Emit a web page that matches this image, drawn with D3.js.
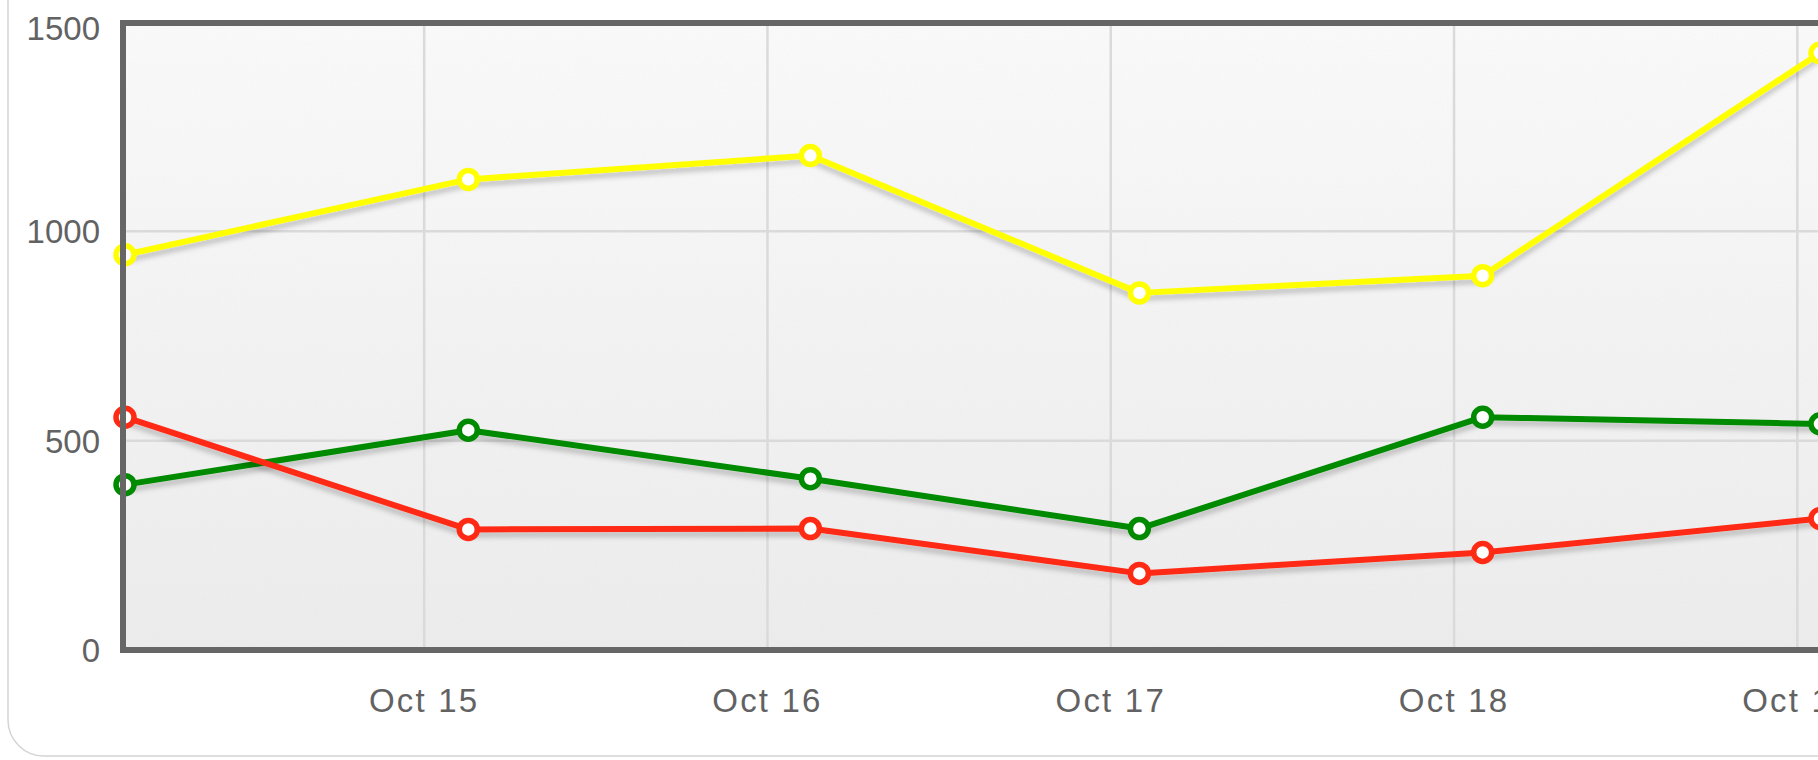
<!DOCTYPE html>
<html>
<head>
<meta charset="utf-8">
<script src="https://cdn.jsdelivr.net/npm/d3@7"></script>
<style>
  html, body { margin: 0; padding: 0; background: #fff; overflow: hidden; }
  svg { display: block; font-family: "Liberation Sans", Arial, sans-serif; }
  .tick-label { fill: #626262; font-size: 33px; }
  .x-label { letter-spacing: 2.2px; }
</style>
</head>
<body>
<div id="chart"></div>
<script>
// sample times (UTC) and the three series
const times = [
    "2011-10-14T03:05", "2011-10-15T03:05", "2011-10-16T03:00",
    "2011-10-17T02:00", "2011-10-18T02:00", "2011-10-19T01:35"
];
const yellowValues = [944, 1124, 1181, 853, 894, 1426];
const greenValues = [395, 525, 409, 290, 556, 540];
const redValues = [556, 288, 290, 183, 233, 314];
const yTicks = [0, 500, 1000, 1500];
const seriesNames = ["yellow", "green", "red"];
const seriesColors = ["#ffff00", "#008a00", "#ff2a14"];

(function () {
    const width = 1818;
    const height = 760;

    const parseTime = d3.utcParse("%Y-%m-%dT%H:%M");
    const dates = times.map(parseTime);
    const allValues = [yellowValues, greenValues, redValues];

    const series = seriesNames.map((name, i) => ({
        name: name,
        color: seriesColors[i],
        points: dates.map((d, j) => ({ date: d, value: allValues[i][j] }))
    }));

    const svg = d3.select("#chart")
        .append("svg")
        .attr("width", width)
        .attr("height", height);

    const defs = svg.append("defs");

    // plot background: light gradient
    const grad = defs.append("linearGradient")
        .attr("id", "bg-grad")
        .attr("x1", 0).attr("y1", 0).attr("x2", 0).attr("y2", 1);
    grad.append("stop").attr("offset", "0%").attr("stop-color", "#fbfbfb");
    grad.append("stop").attr("offset", "100%").attr("stop-color", "#ededed");

    // slight grain on the background
    const noise = defs.append("filter").attr("id", "grain")
        .attr("x", 0).attr("y", 0).attr("width", "100%").attr("height", "100%");
    noise.append("feTurbulence")
        .attr("type", "fractalNoise")
        .attr("baseFrequency", 0.9)
        .attr("numOctaves", 1)
        .attr("seed", 3);
    noise.append("feColorMatrix")
        .attr("values", "0 0 0 0 0.5  0 0 0 0 0.5  0 0 0 0 0.5  0 0 0 0.08 0");
    noise.append("feComposite").attr("in2", "SourceGraphic").attr("operator", "in");

    // line shadow
    const shadow = defs.append("filter").attr("id", "shadow")
        .attr("x", "-5%").attr("y", "-20%").attr("width", "110%").attr("height", "140%");
    shadow.append("feDropShadow")
        .attr("dx", 0).attr("dy", 5)
        .attr("stdDeviation", 2.5)
        .attr("flood-color", "#000")
        .attr("flood-opacity", 0.2);

    // outer rounded box
    svg.append("rect")
        .attr("x", 8)
        .attr("y", -60)
        .attr("width", 1900)
        .attr("height", 816)
        .attr("rx", 36)
        .attr("fill", "#fff")
        .attr("stroke", "#d4d4d4")
        .attr("stroke-width", 1.5);

    const plot = { left: 123, top: 23, right: 1822, bottom: 650 };

    const x = d3.scaleUtc()
        .domain(d3.extent(dates))
        .range([125, 1820]);

    const y = d3.scaleLinear()
        .domain([0, 1500])
        .range([650, 22]);

    // background
    svg.append("rect")
        .attr("x", plot.left)
        .attr("y", plot.top)
        .attr("width", plot.right - plot.left)
        .attr("height", plot.bottom - plot.top)
        .attr("fill", "url(#bg-grad)");
    svg.append("rect")
        .attr("x", plot.left)
        .attr("y", plot.top)
        .attr("width", plot.right - plot.left)
        .attr("height", plot.bottom - plot.top)
        .attr("fill", "#fff")
        .attr("filter", "url(#grain)");

    // grid
    const dayTicks = x.ticks(d3.utcDay.every(1));
    const grid = svg.append("g").attr("class", "grid");
    grid.selectAll(".vgrid")
        .data(dayTicks)
        .enter().append("line")
        .attr("x1", d => x(d)).attr("x2", d => x(d))
        .attr("y1", plot.top).attr("y2", plot.bottom)
        .attr("stroke", "#dadada")
        .attr("stroke-width", 2.5);
    grid.selectAll(".hgrid")
        .data(yTicks.slice(1, -1))
        .enter().append("line")
        .attr("x1", plot.left).attr("x2", plot.right)
        .attr("y1", d => y(d)).attr("y2", d => y(d))
        .attr("stroke", "#dadada")
        .attr("stroke-width", 2.5);

    // axis labels
    svg.append("g").selectAll("text")
        .data(yTicks)
        .enter().append("text")
        .attr("class", "tick-label")
        .attr("x", 100)
        .attr("y", d => Math.max(y(d), 28))
        .attr("dy", "0.36em")
        .attr("text-anchor", "end")
        .text(d => d);

    const fmt = d3.utcFormat("%b %-d");
    svg.append("g").selectAll("text")
        .data(dayTicks)
        .enter().append("text")
        .attr("class", "tick-label x-label")
        .attr("x", d => x(d))
        .attr("y", 712)
        .attr("text-anchor", "middle")
        .text(d => fmt(d));

    // lines
    const line = d3.line()
        .x(d => x(d.date))
        .y(d => y(d.value));

    const lineGroup = svg.append("g").attr("class", "lines");
    lineGroup.selectAll("path")
        .data(series)
        .enter().append("path")
        .attr("d", d => line(d.points))
        .attr("fill", "none")
        .attr("stroke", d => d.color)
        .attr("stroke-width", 6)
        .attr("stroke-linejoin", "round")
        .attr("filter", "url(#shadow)");

    // points
    series.forEach(s => {
        svg.append("g").selectAll("circle")
            .data(s.points)
            .enter().append("circle")
            .attr("cx", d => x(d.date))
            .attr("cy", d => y(d.value))
            .attr("r", 9)
            .attr("fill", "#fff")
            .attr("stroke", s.color)
            .attr("stroke-width", 5.5);
    });

    // border on top of everything
    svg.append("rect")
        .attr("x", plot.left)
        .attr("y", plot.top)
        .attr("width", plot.right - plot.left)
        .attr("height", plot.bottom - plot.top)
        .attr("fill", "none")
        .attr("stroke", "#666")
        .attr("stroke-width", 6);
})();
</script>
</body>
</html>
